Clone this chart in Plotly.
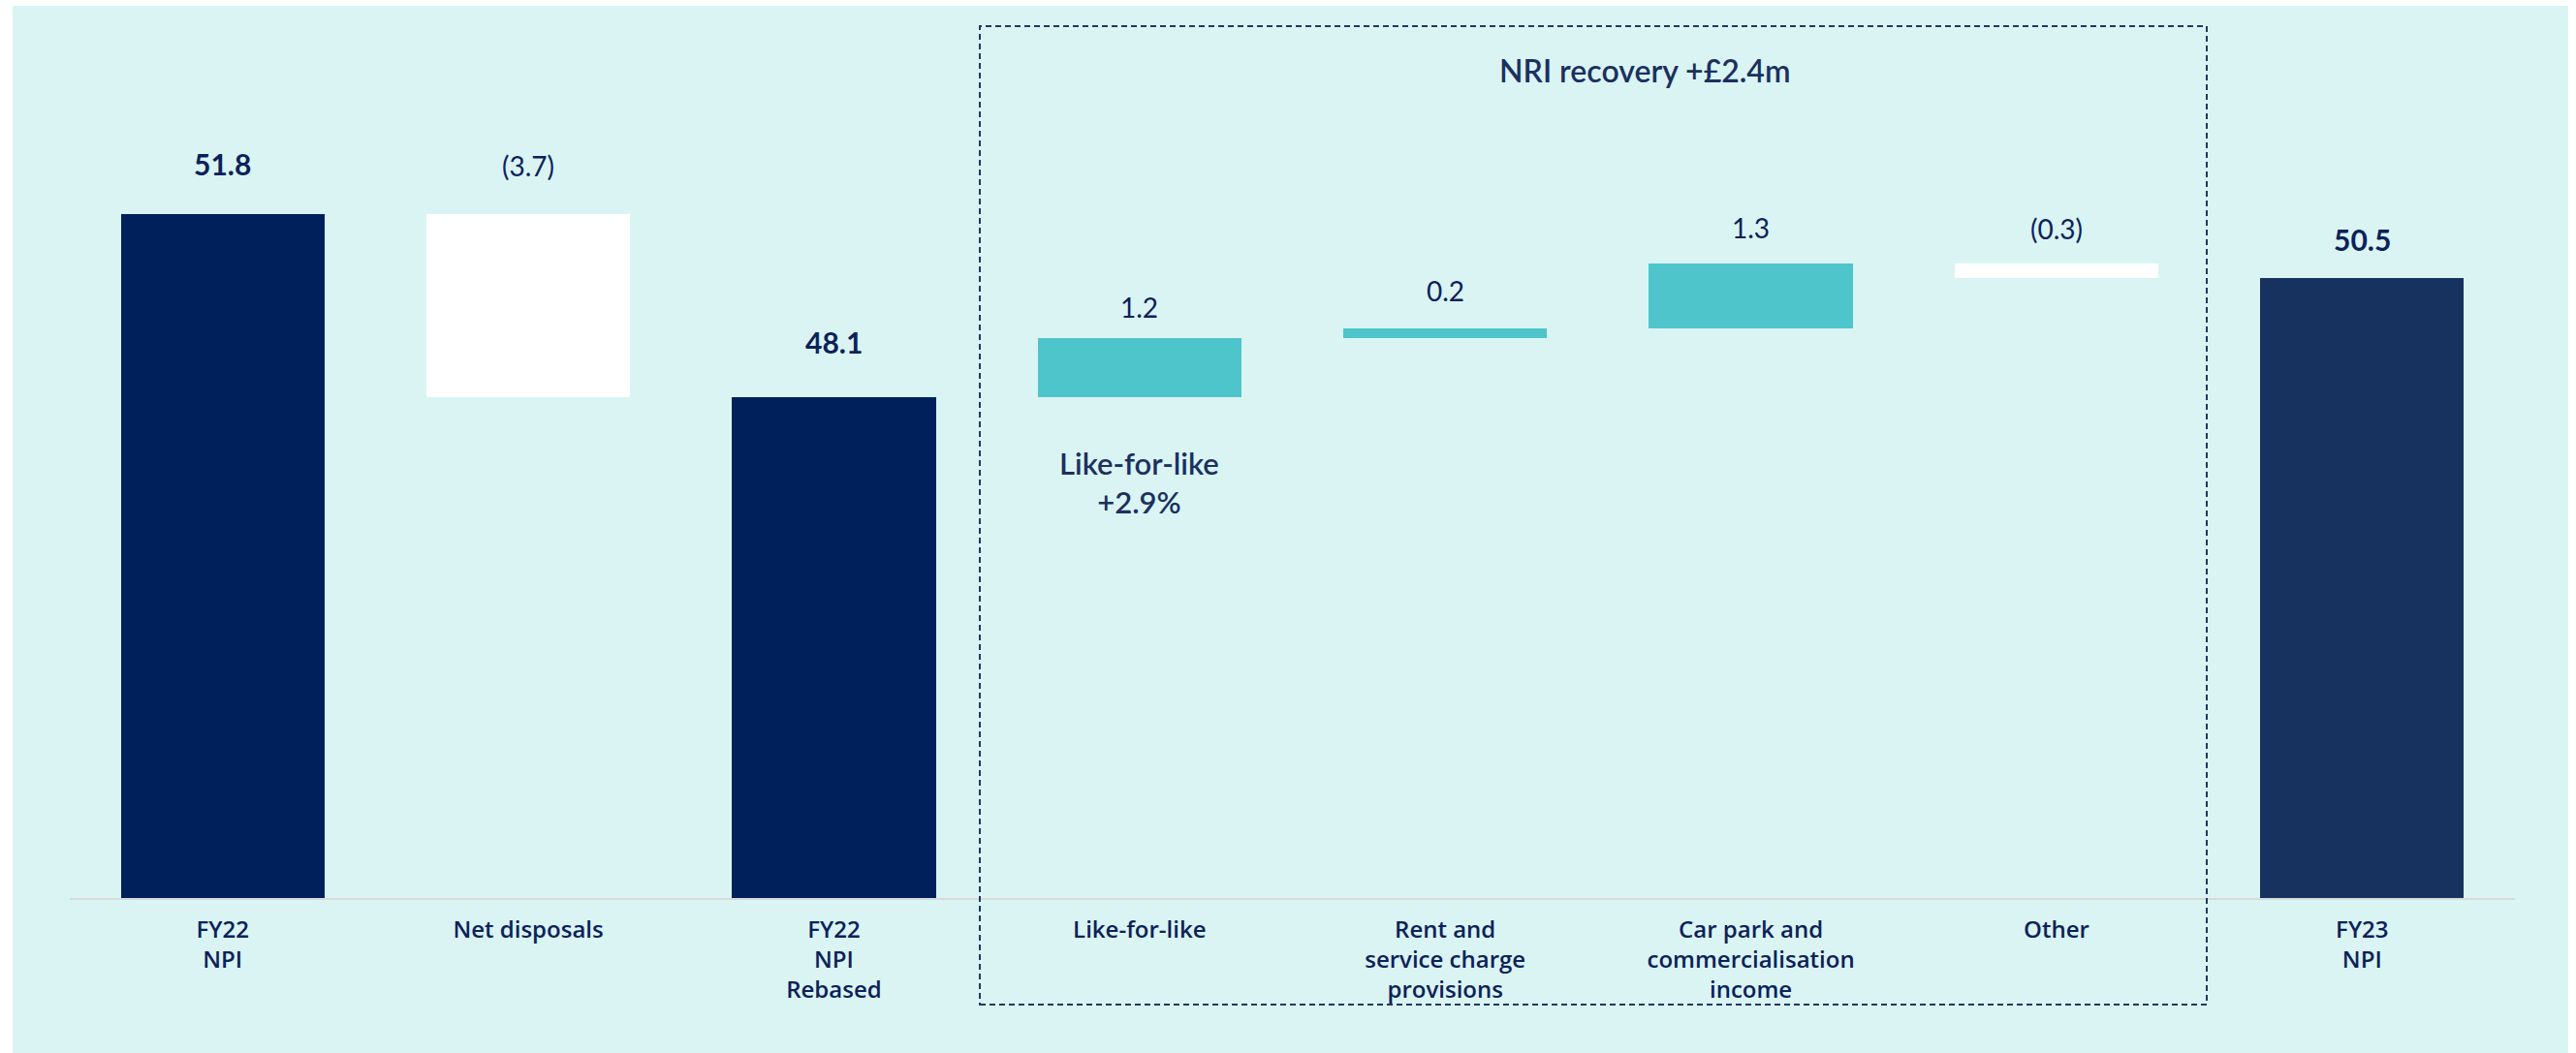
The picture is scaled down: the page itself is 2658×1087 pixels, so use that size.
import plotly.graph_objects as go

# ---- data -------------------------------------------------------------
categories = [
    "FY22<br>NPI",
    "Net disposals",
    "FY22<br>NPI<br>Rebased",
    "Like-for-like",
    "Rent and<br>service charge<br>provisions",
    "Car park and<br>commercialisation<br>income",
    "Other",
    "FY23<br>NPI",
]
values = [51.8, -3.7, 48.1, 1.2, 0.2, 1.3, -0.3, 50.5]
measures = ["total", "delta", "total", "delta", "delta", "delta", "delta", "total"]
group_title = "NRI recovery +£2.4m"
lfl_note = "Like-for-like<br>+2.9%"

# ---- styling ----------------------------------------------------------
W, H = 2658, 1087
BG = "#DAF4F4"
NAVY = "#00205B"
NAVY_END = "#17325E"
TEAL = "#4EC5CA"
TEXT = "#0B2259"
FONT = "Lato"
TICK_FONT = "Open Sans"

# gap (px) between the top of each bar and the centre of its value label
label_gap = [52, 50, 57, 32, 39, 37, 36, 40]

Y_MIN, Y_MAX = 38, 54.2
M_L, M_R, M_T, M_B = 72, 63, 98, 160
plot_w = W - M_L - M_R
plot_h = H - M_T - M_B


def px_to_paper_x(px):
    return (px - M_L) / plot_w


def px_to_paper_y(py):
    return (H - M_B - py) / plot_h


def px_to_cat(px):
    return (px - M_L) / plot_w * len(categories) - 0.5


# running waterfall: bases and tops from the values
bases, tops, colors = [], [], []
running = 0.0
for i, (v, m) in enumerate(zip(values, measures)):
    if m == "total":
        bases.append(0.0)
        running = v
        tops.append(v)
        colors.append(NAVY_END if i == len(values) - 1 else NAVY)
    else:
        bases.append(running)
        tops.append(max(running, running + v))
        running += v
        colors.append(TEAL if v > 0 else "#FFFFFF")


def fmt(v):
    return f"({abs(v):.1f})" if v < 0 else f"{v:.1f}"


x_idx = list(range(len(categories)))

fig = go.Figure()
fig.add_trace(
    go.Bar(
        x=x_idx,
        y=values,
        base=bases,
        width=0.667,
        marker=dict(color=colors, line=dict(width=0)),
        hoverinfo="skip",
        showlegend=False,
    )
)

annotations = []
for i, (v, m) in enumerate(zip(values, measures)):
    is_total = m == "total"
    annotations.append(
        dict(
            x=i,
            y=tops[i],
            xref="x",
            yref="y",
            text=fmt(v),
            showarrow=False,
            yanchor="middle",
            yshift=label_gap[i],
            font=dict(
                family=FONT,
                size=30 if is_total else 28,
                color=TEXT,
                weight=700 if is_total else 400,
            ),
        )
    )

# note under the like-for-like bar
annotations.append(
    dict(
        x=3,
        y=bases[3],
        xref="x",
        yref="y",
        text=lfl_note,
        showarrow=False,
        yanchor="middle",
        yshift=-88,
        font=dict(family=FONT, size=31, color="#1B305F", weight=600),
    )
)

# heading of the dashed group
annotations.append(
    dict(
        x=px_to_cat(1697),
        y=px_to_paper_y(73),
        xref="x",
        yref="paper",
        text=group_title,
        showarrow=False,
        yanchor="middle",
        font=dict(family=FONT, size=32, color="#1B305F", weight=600),
    )
)

shapes = [
    # tinted panel behind the chart
    dict(
        type="rect",
        xref="paper",
        yref="paper",
        x0=px_to_paper_x(13),
        x1=px_to_paper_x(2650),
        y0=px_to_paper_y(1087),
        y1=px_to_paper_y(6),
        fillcolor=BG,
        line=dict(width=0),
        layer="below",
    ),
    # dashed frame around the NRI recovery items
    dict(
        type="rect",
        xref="x",
        yref="paper",
        x0=px_to_cat(1011),
        x1=px_to_cat(2277),
        y0=px_to_paper_y(1037),
        y1=px_to_paper_y(27),
        line=dict(color="#1F3864", width=2, dash="6px,4px"),
        fillcolor="rgba(0,0,0,0)",
        layer="above",
    ),
]

fig.update_layout(
    width=W,
    height=H,
    margin=dict(l=M_L, r=M_R, t=M_T, b=M_B, pad=0),
    paper_bgcolor="#FFFFFF",
    plot_bgcolor="rgba(0,0,0,0)",
    font=dict(family=FONT, color=TEXT),
    bargap=0,
    annotations=annotations,
    shapes=shapes,
    xaxis=dict(
        tickmode="array",
        tickvals=x_idx,
        ticktext=categories,
        range=[-0.5, len(categories) - 0.5],
        showgrid=False,
        zeroline=False,
        showline=True,
        linecolor="#D9D9D9",
        linewidth=2,
        ticks="",
        ticklabelstandoff=10,
        tickfont=dict(family=TICK_FONT, size=24, color=TEXT, weight=600),
        fixedrange=True,
    ),
    yaxis=dict(
        range=[Y_MIN, Y_MAX],
        visible=False,
        showgrid=False,
        zeroline=False,
        fixedrange=True,
    ),
)

fig.write_html("out.html", config={"displayModeBar": False})
